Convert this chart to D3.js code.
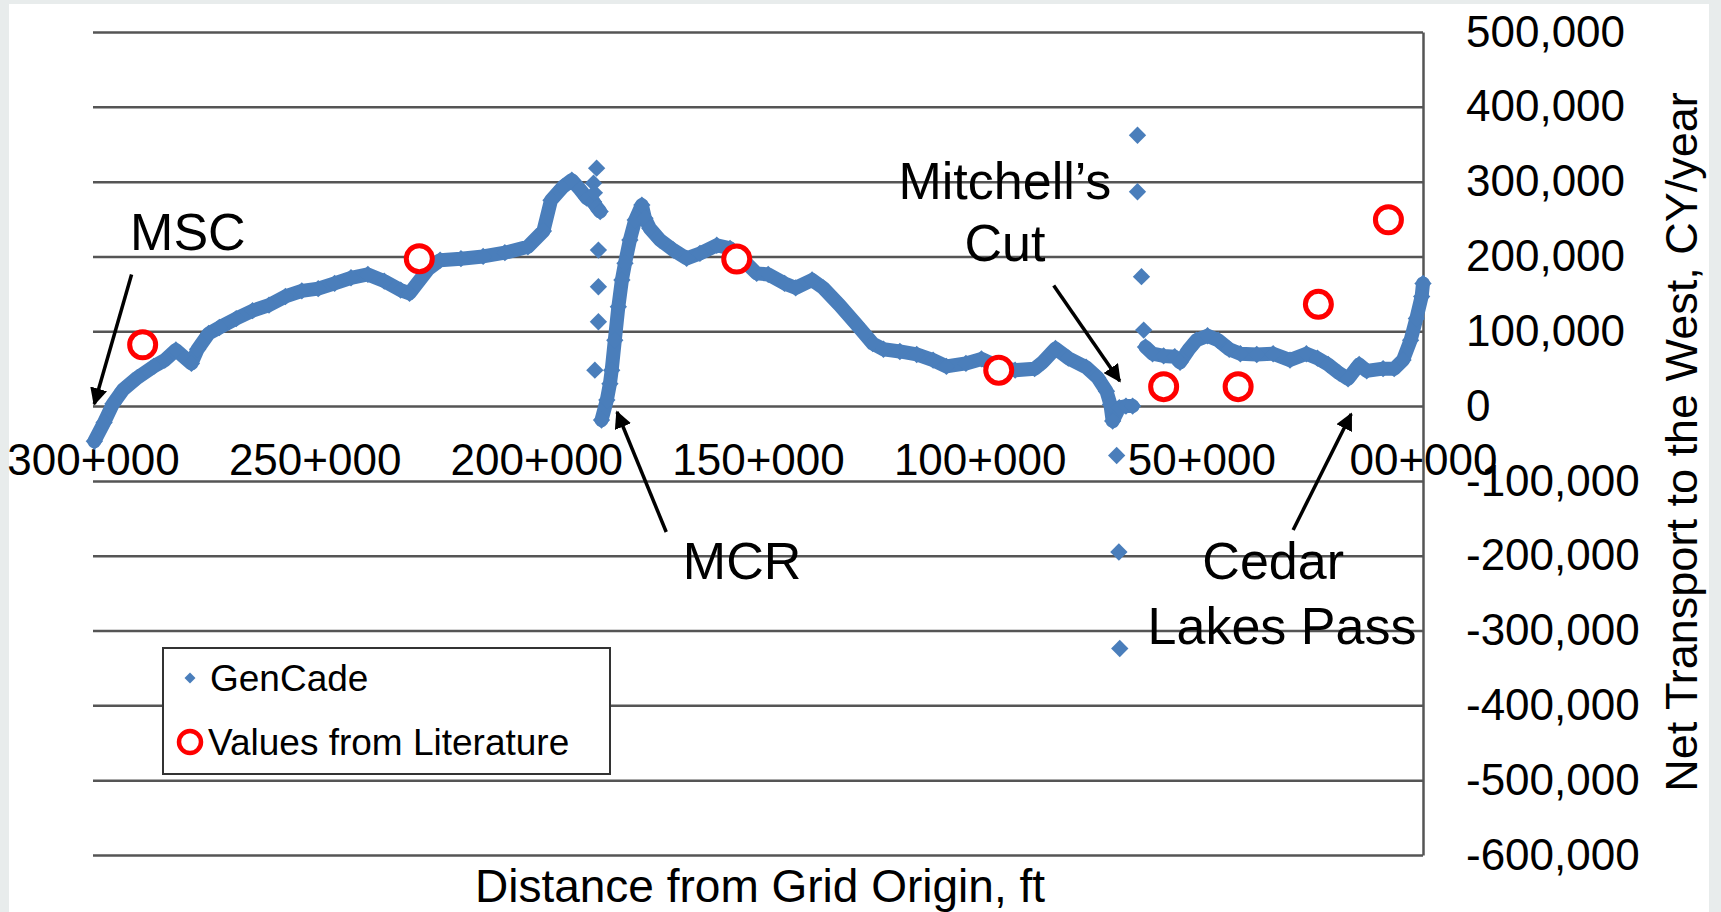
<!DOCTYPE html>
<html>
<head>
<meta charset="utf-8">
<script src="https://cdn.jsdelivr.net/npm/d3@7"></script>
<style>
  body { margin: 0; background: #e8ecec; }
  svg { display: block; }
  text { font-family: "Liberation Sans", Arial, sans-serif; fill: #000; }
</style>
</head>
<body>
<svg id="chart"></svg>
<script>
// GenCade net transport (distance ft, CY/year)
// three continuous stretches + isolated points near the inlets
var westDist = [299700, 297500, 295500, 293200, 290000, 286300, 283800, 281300, 277800, 276400,
  273900, 271500, 267700, 264000, 260300, 256600, 252900, 249200, 245500, 241800, 238000, 234300,
  230600, 228600, 224400, 221700, 217000, 212000, 207100, 201900, 198400, 196700, 194000, 192000,
  190200, 188600, 187100, 186400, 185600];
var westVal = [-47000, -22000, 3000, 22000, 38000, 53000, 61500, 75000, 57000, 76000,
  97000, 105000, 117000, 127500, 135000, 146500, 154000, 157000, 164000, 171500, 176000, 167000,
  155000, 150700, 183000, 195000, 197000, 200000, 205000, 213000, 234000, 275000, 293000, 302000,
  290000, 278000, 273000, 266000, 260000];

var midDist = [185300, 184100, 183400, 183000, 182300, 181500, 180700, 180000, 178900, 177700,
  176200, 175500, 174400, 172100, 169100, 166100, 163100, 159300, 156300, 153300, 150300, 147700,
  144000, 141500, 137800, 135300, 131600, 127900, 124100, 121700, 118000, 114200, 110500, 107500,
  103100, 99600, 95500, 92000, 87600, 85800, 82900, 80000, 76000, 73400, 71400, 70500, 70000,
  68500, 67000, 65500];
var midVal = [-18700, 8000, 30000, 48000, 88000, 132700, 168500, 190800, 222000, 248700,
  268700, 251000, 237600, 222000, 208600, 197500, 204000, 215000, 210800, 195000, 177400, 176000,
  164000, 158000, 168600, 158000, 135000, 110000, 83500, 76000, 73000, 69000, 61500, 53000,
  57000, 63000, 52000, 48000, 50000, 58500, 77000, 64000, 52000, 38000, 20000, 2000, -20000,
  -2000, 0, 0];

var eastDist = [62600, 61000, 58500, 56000, 54800, 52800, 51100, 48600, 46200, 43700, 41200,
  37500, 33800, 30000, 26300, 23800, 21400, 18900, 16900, 14400, 12700, 9000, 6500, 4500, 2800,
  1500, 300, 0];
var eastVal = [79000, 70000, 67000, 66000, 58500, 76000, 88000, 94000, 88000, 76000, 70000,
  69000, 70000, 61500, 70000, 64000, 55600, 44000, 36500, 55600, 47000, 50000, 50000, 61500,
  88000, 117000, 146500, 164000];

var looseDist = [186400, 187100, 186900, 186000, 186000, 186000, 186800, 64400, 64400, 63500,
  63000, 69100, 68600, 68400];
var looseVal = [318000, 298000, 285000, 208500, 159500, 112700, 48000, 362000, 286500, 173000,
  101600, -66000, -195000, -324000];

// Values from literature
var litDist = [288800, 226400, 154800, 95700, 58500, 41700, 23600, 7800];
var litVal = [82000, 197000, 196500, 48000, 26000, 26000, 136000, 249000];

var xTicks = [300000, 250000, 200000, 150000, 100000, 50000, 0];
var yTicks = [500000, 400000, 300000, 200000, 100000, 0, -100000, -200000, -300000,
  -400000, -500000, -600000];

var W = 1721, H = 912;
var margin = {top: 32, right: 298, bottom: 57, left: 93},
    width = W - margin.left - margin.right,
    height = H - margin.top - margin.bottom;

var blue = "#4a7ebb", red = "#ff0000", gridCol = "#555";

var svg = d3.select("#chart").attr("width", W).attr("height", H);

svg.append("rect")
  .attr("x", 9).attr("y", 4)
  .attr("width", 1700).attr("height", H - 4)
  .attr("fill", "#fff");

var g = svg.append("g")
  .attr("transform", "translate(" + margin.left + "," + margin.top + ")");

var x = d3.scaleLinear().domain([300000, 0]).range([0, width]);
var y = d3.scaleLinear().domain([-600000, 500000]).range([height, 0]);

var fmt = d3.formatLocale({decimal: ".", thousands: ",", grouping: [3], currency: ["", ""], minus: "-"}).format(",");

// value axis on the right, gridlines run back across the plot
var yAxis = g.append("g")
  .attr("transform", "translate(" + width + ",0)")
  .call(d3.axisRight(y).tickValues(yTicks).tickFormat(fmt)
    .tickSize(-width).tickSizeOuter(0).tickPadding(43));
yAxis.selectAll("line").attr("stroke", gridCol).attr("stroke-width", 2.5);
yAxis.select(".domain").attr("stroke", gridCol).attr("stroke-width", 2.5);
yAxis.selectAll("text").style("font-size", "44px").attr("fill", "#000");

// category labels sit just under the zero line
var xAxis = g.append("g")
  .attr("transform", "translate(0," + y(0) + ")")
  .call(d3.axisBottom(x).tickValues(xTicks)
    .tickFormat(function(d) { return d3.format("02d")(d / 1000) + "+000"; })
    .tickSize(0).tickPadding(38));
xAxis.select(".domain").remove();
xAxis.selectAll("text").style("font-size", "44px").attr("fill", "#000");

// axis titles
svg.append("text")
  .attr("x", margin.left + width / 2 + 2)
  .attr("y", 902)
  .attr("text-anchor", "middle")
  .style("font-size", "46px")
  .text("Distance from Grid Origin, ft");

svg.append("text")
  .attr("transform", "translate(1697," + 442 + ") rotate(-90)")
  .attr("text-anchor", "middle")
  .style("font-size", "45px")
  .text("Net Transport to the West, CY/year");

// GenCade: dense diamond markers, drawn as a thick band plus markers
var line = d3.line()
  .x(function(d) { return x(d[0]); })
  .y(function(d) { return y(d[1]); });

var stretches = [d3.zip(westDist, westVal), d3.zip(midDist, midVal), d3.zip(eastDist, eastVal)];
var loose = d3.zip(looseDist, looseVal);

g.selectAll(".band")
  .data(stretches)
  .enter().append("path")
    .attr("class", "band")
    .attr("d", line)
    .attr("fill", "none")
    .attr("stroke", blue)
    .attr("stroke-width", 14)
    .attr("stroke-linejoin", "round")
    .attr("stroke-linecap", "round");

var diamond = d3.symbol().type(d3.symbolSquare).size(150);
var allPts = [].concat(stretches[0], stretches[1], stretches[2], loose);
g.selectAll(".gc")
  .data(allPts)
  .enter().append("path")
    .attr("class", "gc")
    .attr("d", diamond)
    .attr("transform", function(d) { return "translate(" + x(d[0]) + "," + y(d[1]) + ") rotate(45)"; })
    .attr("fill", blue);

// literature values
g.selectAll(".lit")
  .data(d3.zip(litDist, litVal))
  .enter().append("circle")
    .attr("class", "lit")
    .attr("cx", function(d) { return x(d[0]); })
    .attr("cy", function(d) { return y(d[1]); })
    .attr("r", 13)
    .attr("fill", "#fff")
    .attr("stroke", red)
    .attr("stroke-width", 5);

// annotations (positions in data units)
svg.append("defs").append("marker")
  .attr("id", "head")
  .attr("viewBox", "0 0 10 10")
  .attr("refX", 9).attr("refY", 5)
  .attr("markerWidth", 5).attr("markerHeight", 5)
  .attr("markerUnits", "strokeWidth")
  .attr("orient", "auto")
  .append("path").attr("d", "M0,0 L10,5 L0,10 z").attr("fill", "#000");

var arrows = [
  [291300, 176000, 299700, 2800],
  [170700, -168300, 181800, -7900],
  [83300, 161300, 68400, 33500],
  [29300, -165600, 16200, -10600]
];
g.selectAll(".arrow")
  .data(arrows)
  .enter().append("line")
    .attr("class", "arrow")
    .attr("x1", function(d) { return x(d[0]); })
    .attr("y1", function(d) { return y(d[1]); })
    .attr("x2", function(d) { return x(d[2]); })
    .attr("y2", function(d) { return y(d[3]); })
    .attr("stroke", "#000")
    .attr("stroke-width", 3.5)
    .attr("marker-end", "url(#head)");

var labels = [
  ["MSC", 278600, 208600],
  ["MCR", 153600, -231100],
  ["Mitchell\u2019s", 94300, 276800],
  ["Cut", 94300, 193900],
  ["Cedar", 33800, -231100],
  ["Lakes Pass", 31800, -318000]
];
g.selectAll(".note")
  .data(labels)
  .enter().append("text")
    .attr("class", "note")
    .attr("x", function(d) { return x(d[1]); })
    .attr("y", function(d) { return y(d[2]); })
    .attr("text-anchor", "middle")
    .style("font-size", "52px")
    .text(function(d) { return d[0]; });

// legend
var legend = svg.append("g");
legend.append("rect")
  .attr("x", 163).attr("y", 648)
  .attr("width", 447).attr("height", 126)
  .attr("fill", "#fff")
  .attr("stroke", "#333")
  .attr("stroke-width", 2);
legend.append("path")
  .attr("d", d3.symbol().type(d3.symbolSquare).size(60))
  .attr("transform", "translate(190,678) rotate(45)")
  .attr("fill", blue);
legend.append("text")
  .attr("x", 210).attr("y", 691)
  .style("font-size", "37px")
  .text("GenCade");
legend.append("circle")
  .attr("cx", 190).attr("cy", 742).attr("r", 11)
  .attr("fill", "#fff").attr("stroke", red).attr("stroke-width", 4.5);
legend.append("text")
  .attr("x", 208).attr("y", 755)
  .style("font-size", "37px")
  .text("Values from Literature");
</script>
</body>
</html>
